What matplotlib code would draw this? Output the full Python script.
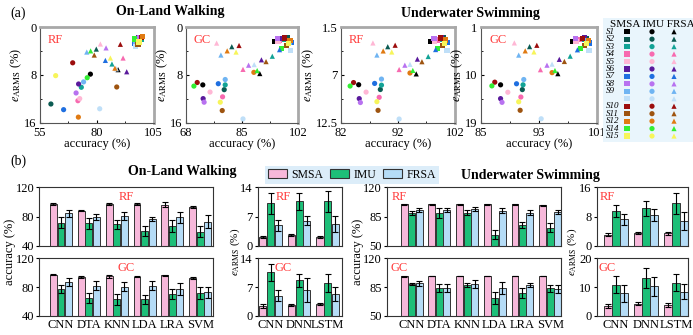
import numpy as np
import matplotlib
matplotlib.use("Agg")
from matplotlib import pyplot as plt
from matplotlib.patches import Patch

plt.rcParams["font.family"] = ["Liberation Serif", "DejaVu Serif"]
plt.rcParams["mathtext.fontset"] = "stix"

W, H = 693, 335

# ---- (a) per-subject scatter data: accuracy (%) and e_ARMS (%) ----
subjects = ["S1", "S2", "S3", "S4", "S5", "S6", "S7", "S8", "S9", "",
            "S10", "S11", "S12", "S14", "S15"]
subj_colors = ["#000000", "#0b5b52", "#12a396", "#f76ab0", "#ffb7d5",
               "#5a1a9c", "#1f6fe0", "#b872f0", "#6fb4f2", "#bfdff8",
               "#9c0d0d", "#9e5410", "#e07a12", "#33ee33", "#f7f55a"]
sensors = ["SMSA", "IMU", "FRSA"]

land_rf_acc = {
    "SMSA": [97.8, 99.2, 99.6, 97.9, 97.6, 98.3, 96.7, 99.0, 97.0, 97.2, 99.8, 98.2, 100.2, 96.5, 98.6],
    "IMU": [77.2, 59.8, 73.2, 71.7, 72.5, 72.0, 65.4, 70.9, 74.2, 81.3, 69.4, 88.8, 71.9, 75.8, 61.9],
    "FRSA": [89.4, 79.8, 86.7, 91.6, 81.6, 93.2, 83.8, 84.1, 75.6, 88.6, 90.4, 78.9, 88.0, 77.3, 86.0],
}
land_rf_err = {
    "SMSA": [2.8, 1.95, 2.1, 2.4, 2.3, 1.85, 2.7, 1.75, 2.5, 3.3, 1.7, 2.95, 1.6, 2.0, 2.5],
    "IMU": [7.9, 12.9, 10.1, 12.35, 12.0, 9.55, 13.85, 11.05, 9.2, 13.7, 6.0, 10.05, 15.1, 8.5, 8.15],
    "FRSA": [7.15, 3.7, 6.2, 5.2, 2.85, 7.5, 5.6, 3.5, 4.2, 7.0, 2.9, 4.7, 6.9, 4.0, 5.2],
}
land_gc_acc = {
    "SMSA": [94.8, 98.9, 98.0, 96.5, 95.9, 97.3, 100.0, 95.7, 99.5, 99.8, 97.8, 98.6, 99.6, 97.1, 99.1],
    "IMU": [73.1, 79.6, 79.9, 79.1, 75.3, 73.2, 77.8, 73.5, 79.9, 85.3, 71.4, 79.0, 88.6, 70.4, 78.4],
    "FRSA": [90.4, 81.9, 94.2, 85.3, 77.3, 90.9, 96.4, 87.0, 78.6, 88.7, 84.1, 92.3, 80.5, 89.6, 83.2],
}
land_gc_err = {
    "SMSA": [2.4, 1.85, 2.0, 2.2, 2.4, 1.9, 2.6, 1.95, 2.5, 4.0, 1.85, 3.1, 2.2, 3.6, 2.7],
    "IMU": [9.7, 10.5, 9.7, 11.7, 10.9, 12.0, 9.5, 12.6, 8.8, 15.4, 9.3, 14.0, 7.6, 9.9, 12.6],
    "FRSA": [7.8, 3.3, 4.9, 7.1, 2.7, 5.5, 3.8, 6.4, 4.7, 6.3, 3.1, 5.8, 4.0, 7.3, 4.2],
}
water_rf_acc = {
    "SMSA": [97.8, 100.0, 99.8, 98.9, 98.4, 99.6, 100.7, 98.3, 100.3, 100.6, 99.4, 99.8, 100.4, 99.0, 100.1],
    "IMU": [85.1, 88.9, 89.1, 88.7, 86.4, 85.2, 87.9, 85.4, 89.1, 92.2, 84.2, 88.5, 94.1, 83.6, 88.3],
    "FRSA": [95.2, 90.2, 97.3, 92.2, 87.6, 95.4, 98.6, 93.2, 88.3, 94.1, 91.5, 96.2, 89.4, 94.6, 90.9],
}
water_rf_err = {
    "SMSA": [3.15, 2.77, 2.9, 3.0, 3.15, 2.75, 3.3, 2.8, 3.1, 4.2, 2.77, 3.65, 3.0, 4.0, 3.4],
    "IMU": [8.15, 8.7, 8.2, 9.6, 9.0, 9.75, 8.0, 10.2, 7.5, 12.1, 7.9, 11.1, 6.8, 8.3, 10.1],
    "FRSA": [6.9, 3.77, 4.9, 6.4, 3.34, 5.2, 4.1, 5.9, 4.73, 5.8, 3.6, 5.5, 4.26, 6.5, 4.38],
}
water_gc_acc = {
    "SMSA": [97.7, 99.5, 99.2, 98.6, 98.1, 99.3, 100.0, 98.0, 99.7, 99.9, 99.0, 99.3, 99.8, 98.7, 99.5],
    "IMU": [87.7, 90.7, 90.8, 90.5, 88.7, 87.7, 89.9, 87.9, 90.9, 93.3, 86.9, 90.4, 94.8, 86.5, 90.2],
    "FRSA": [95.6, 91.7, 97.3, 93.2, 89.6, 95.8, 98.3, 94.1, 90.2, 94.8, 92.7, 96.5, 91.1, 95.2, 92.3],
}
water_gc_err = {
    "SMSA": [3.7, 3.1, 3.3, 3.4, 3.7, 3.0, 4.0, 3.1, 3.6, 5.5, 3.1, 4.5, 3.5, 5.1, 4.1],
    "IMU": [11.9, 12.8, 11.9, 14.2, 13.3, 14.5, 11.7, 15.2, 10.9, 18.3, 11.4, 16.7, 9.6, 12.1, 15.1],
    "FRSA": [9.8, 4.7, 6.5, 9.05, 4.0, 7.1, 5.3, 8.2, 6.3, 8.0, 4.45, 7.5, 5.5, 9.2, 5.7],
}

# ---- (b) classifier / regressor summary bars ----
classifiers = ["CNN", "DTA", "KNN", "LDA", "LRA", "SVM"]
regressors = ["CNN", "DNN", "LSTM"]

land_acc_rf = {"SMSA": [97.3, 88.2, 97.3, 97.3, 96.4, 93.2],
               "IMU": [71.8, 71.0, 69.5, 60.5, 67.3, 59.5],
               "FRSA": [84.5, 80.0, 81.4, 76.8, 79.0, 73.0]}
land_acc_rf_sd = {"SMSA": [1.0, 1.0, 1.0, 0.8, 3.5, 0.8],
                  "IMU": [7.5, 7.5, 6.0, 7.0, 8.0, 7.5],
                  "FRSA": [4.5, 4.0, 5.5, 2.7, 7.0, 9.0]}
land_acc_gc = {"SMSA": [97.3, 93.6, 95.0, 94.6, 96.4, 93.2],
               "IMU": [77.5, 64.5, 63.0, 63.0, 70.5, 71.4],
               "FRSA": [86.7, 82.0, 80.7, 82.0, 77.5, 72.8]}
land_acc_gc_sd = {"SMSA": [1.0, 1.5, 2.0, 0.5, 1.0, 1.5],
                  "IMU": [5.0, 7.0, 8.0, 6.0, 7.6, 8.3],
                  "FRSA": [5.5, 6.0, 6.5, 6.0, 8.0, 8.0]}
land_err_rf = {"SMSA": [2.07, 2.6, 2.2], "IMU": [10.2, 10.7, 10.7], "FRSA": [4.9, 6.0, 5.25]}
land_err_rf_sd = {"SMSA": [0.25, 0.3, 0.3], "IMU": [2.5, 2.0, 2.5], "FRSA": [1.3, 1.1, 1.8]}
land_err_gc = {"SMSA": [2.4, 2.6, 2.9], "IMU": [10.6, 8.7, 8.0], "FRSA": [4.9, 6.3, 5.3]}
land_err_gc_sd = {"SMSA": [0.5, 0.2, 0.3], "IMU": [2.0, 1.6, 2.2], "FRSA": [1.3, 2.8, 1.7]}

water_acc_rf = {"SMSA": [99.7, 99.7, 99.7, 99.7, 99.7, 98.5],
                "IMU": [89.0, 89.8, 89.8, 63.5, 75.0, 72.0],
                "FRSA": [93.0, 93.0, 94.2, 92.2, 89.8, 90.6]}
water_acc_rf_sd = {"SMSA": [0.3, 0.3, 0.3, 0.3, 0.3, 0.3],
                   "IMU": [2.5, 6.0, 3.0, 5.0, 3.5, 5.0],
                   "FRSA": [2.5, 2.5, 2.5, 3.0, 3.0, 2.0]}
water_acc_gc = {"SMSA": [98.0, 98.8, 98.8, 98.8, 98.8, 98.8],
                "IMU": [89.2, 84.0, 87.6, 72.0, 78.0, 83.6],
                "FRSA": [90.0, 84.0, 89.2, 84.0, 87.6, 83.2]}
water_acc_gc_sd = {"SMSA": [0.5, 0.3, 0.3, 0.3, 0.3, 0.3],
                   "IMU": [1.0, 5.0, 2.5, 7.0, 6.0, 4.0],
                   "FRSA": [3.0, 5.0, 5.0, 7.0, 3.0, 5.0]}
water_err_rf = {"SMSA": [3.1, 3.45, 3.45], "IMU": [9.6, 10.3, 11.6], "FRSA": [7.3, 8.5, 6.8]}
water_err_rf_sd = {"SMSA": [0.5, 0.3, 0.4], "IMU": [1.7, 2.0, 2.8], "FRSA": [1.5, 1.7, 2.5]}
water_err_gc = {"SMSA": [3.5, 4.3, 3.8], "IMU": [10.8, 13.1, 11.5], "FRSA": [7.8, 10.3, 8.4]}
water_err_gc_sd = {"SMSA": [0.7, 0.6, 0.6], "IMU": [3.0, 3.5, 3.0], "FRSA": [3.0, 3.3, 2.6]}

bar_colors = {"SMSA": "#f7b8da", "IMU": "#1dbf78", "FRSA": "#b5dcf6"}
markers = {"SMSA": "s", "IMU": "o", "FRSA": "^"}
RED = "#ff3b3b"
ERMS = r"$e_{\mathrm{ARMS}}$ (%)"


def add_px(fig, left, top, right, bottom):
    return fig.add_axes([left / W, 1 - bottom / H, (right - left) / W, (bottom - top) / H])


def scatter_panel(ax, acc, err, xlim, ylim, tag):
    for s in sensors:
        for i in range(len(subj_colors)):
            ax.scatter(acc[s][i], err[s][i], marker=markers[s], s=14,
                       color=subj_colors[i], edgecolors="none", zorder=3)
    ax.set_xlim(xlim)
    ax.set_ylim(ylim[1], ylim[0])
    mx = (xlim[0] + xlim[1]) / 2
    my = (ylim[0] + ylim[1]) / 2
    ax.set_xticks([xlim[0], mx, xlim[1]])
    ax.set_xticks([(xlim[0] + mx) / 2, (mx + xlim[1]) / 2], minor=True)
    ax.set_yticks([ylim[0], my, ylim[1]])
    ax.set_yticks([(ylim[0] + my) / 2, (my + ylim[1]) / 2], minor=True)
    ax.xaxis.set_major_formatter(plt.FuncFormatter(lambda v, p: f"{v:g}"))
    ax.yaxis.set_major_formatter(plt.FuncFormatter(lambda v, p: f"{v:g}"))
    ax.tick_params(which="both", direction="in", labelsize=9, length=2.5)
    ax.tick_params(axis="x", pad=3.5)
    ax.tick_params(axis="y", pad=2.5)
    ax.tick_params(which="minor", length=1.5)
    for side in ("top", "right"):
        ax.spines[side].set_color("#a8a8a8")
        ax.spines[side].set_linewidth(2)
    for side in ("left", "bottom"):
        ax.spines[side].set_color("#555555")
        ax.spines[side].set_linewidth(0.8)
    ax.set_xlabel("accuracy (%)", fontsize=9, labelpad=-1)
    ax.set_ylabel(ERMS, fontsize=9, labelpad=0)
    ax.text(0.07, 0.93, tag, transform=ax.transAxes, color=RED, fontsize=9,
            ha="left", va="top")


def bar_panel(ax, names, mean, sd, ylim, tag, tag_x, xlim, show_labels):
    x = np.arange(len(names))
    for k, s in enumerate(sensors):
        ax.bar(x + (k - 1) * 0.27, mean[s], width=0.25, color=bar_colors[s],
               edgecolor="#333333", linewidth=0.7, yerr=sd[s],
               error_kw=dict(ecolor="black", elinewidth=0.8, capsize=2, capthick=0.8),
               zorder=2)
    ax.set_xlim(xlim)
    ax.set_ylim(ylim)
    ax.set_yticks([ylim[0], (ylim[0] + ylim[1]) / 2, ylim[1]])
    ax.yaxis.set_major_formatter(plt.FuncFormatter(lambda v, p: f"{v:g}"))
    ax.set_xticks(x)
    if show_labels:
        ax.set_xticklabels(names)
    else:
        ax.set_xticklabels([])
    ax.tick_params(axis="y", direction="out", labelsize=9, length=2.5, pad=1)
    ax.tick_params(axis="x", length=0, labelsize=9, pad=2)
    for sp in ax.spines.values():
        sp.set_linewidth(0.8)
        sp.set_color("#333333")
    ax.text(tag_x, 0.93, tag, transform=ax.transAxes, color=RED, fontsize=9,
            ha="center", va="top")


fig = plt.figure(figsize=(W / 100, H / 100), dpi=100)

# ---------- (a) ----------
fig.text(10 / W, 1 - 13 / H, "(a)", fontsize=10, ha="left", va="center")
fig.text(170 / W, 1 - 11 / H, "On-Land Walking", fontsize=10, fontweight="bold",
         ha="center", va="center")
fig.text(470 / W, 1 - 14 / H, "Underwater Swimming", fontsize=10, fontweight="bold",
         ha="center", va="center")

a1 = add_px(fig, 40, 27, 153.5, 122.5)
scatter_panel(a1, land_rf_acc, land_rf_err, (55, 105), (0, 16), "RF")
a2 = add_px(fig, 186, 27, 298, 122.5)
scatter_panel(a2, land_gc_acc, land_gc_err, (68, 102), (0, 16), "GC")
a3 = add_px(fig, 341, 27, 455, 122.5)
scatter_panel(a3, water_rf_acc, water_rf_err, (82, 102), (1.5, 12.5), "RF")
a4 = add_px(fig, 481, 27, 597, 122.5)
scatter_panel(a4, water_gc_acc, water_gc_err, (85, 101), (1, 19), "GC")

# subject legend block
lg = add_px(fig, 603, 18, 693, 142)
lg.set_facecolor("#e9f5fc")
for sp in lg.spines.values():
    sp.set_visible(False)
lg.set_xticks([])
lg.set_yticks([])
lg.set_xlim(0, 90)
lg.set_ylim(14.8, -1.84)
col_x = {"SMSA": 24, "IMU": 49, "FRSA": 71}
lg.text(49, -1.0, "SMSA IMU FRSA", fontsize=8, ha="center", va="center")
for i, (lab, c) in enumerate(zip(subjects, subj_colors)):
    lg.text(3, i, lab, fontsize=6.5, style="italic", ha="left", va="center")
    for s in sensors:
        lg.scatter(col_x[s], i, marker=markers[s], s=14, color=c, edgecolors="none")

# ---------- (b) ----------
fig.text(10 / W, 1 - 161 / H, "(b)", fontsize=10, ha="left", va="center")
fig.text(182 / W, 1 - 172 / H, "On-Land Walking", fontsize=10, fontweight="bold",
         ha="center", va="center")
fig.text(530 / W, 1 - 176 / H, "Underwater Swimming", fontsize=10, fontweight="bold",
         ha="center", va="center")

handles = [Patch(facecolor=bar_colors[s], edgecolor="#333333", linewidth=0.8) for s in sensors]
fig.legend(handles, sensors, loc="center", bbox_to_anchor=(352 / W, 1 - 175 / H), ncol=3,
           frameon=True, fancybox=False, facecolor="#dcedf9", edgecolor="none",
           fontsize=8.5, handlelength=1.6, handleheight=0.8, columnspacing=0.6,
           handletextpad=0.35, borderpad=0.25, borderaxespad=0, framealpha=1)

cx = (-0.78, 5.45)
rx = (-0.45, 2.5)
wx = (-0.9, 5.38)
ex = (-0.64, 2.39)

b1 = add_px(fig, 39.3, 187.3, 212.7, 246)
bar_panel(b1, classifiers, land_acc_rf, land_acc_rf_sd, (40, 120), "RF", 0.5, cx, False)
b1g = add_px(fig, 39.3, 258.3, 212.7, 316)
bar_panel(b1g, classifiers, land_acc_gc, land_acc_gc_sd, (40, 120), "GC", 0.5, cx, True)
fig.text(10 / W, 1 - 252 / H, "accuracy (%)", rotation=90, fontsize=9,
         ha="center", va="center")

b2 = add_px(fig, 257.7, 187.3, 342, 246)
bar_panel(b2, regressors, land_err_rf, land_err_rf_sd, (0, 14), "RF", 0.3, rx, False)
b2g = add_px(fig, 257.7, 258.3, 342, 316)
bar_panel(b2g, regressors, land_err_gc, land_err_gc_sd, (0, 14), "GC", 0.3, rx, True)
fig.text(235 / W, 1 - 252 / H, ERMS, rotation=90, fontsize=8, ha="center", va="center")

b3 = add_px(fig, 386.7, 187.3, 560.7, 246)
bar_panel(b3, classifiers, water_acc_rf, water_acc_rf_sd, (50, 120), "RF", 0.07, wx, False)
b3g = add_px(fig, 386.7, 258.3, 560.7, 316)
bar_panel(b3g, classifiers, water_acc_gc, water_acc_gc_sd, (50, 120), "GC", 0.07, wx, True)
fig.text(358 / W, 1 - 252 / H, "accuracy (%)", rotation=90, fontsize=9,
         ha="center", va="center")

b4 = add_px(fig, 596.7, 187.3, 687.7, 246)
bar_panel(b4, regressors, water_err_rf, water_err_rf_sd, (0, 16), "RF", 0.12, ex, False)
b4g = add_px(fig, 596.7, 258.3, 687.7, 316)
bar_panel(b4g, regressors, water_err_gc, water_err_gc_sd, (0, 20), "GC", 0.12, ex, True)
fig.text(572 / W, 1 - 252 / H, ERMS, rotation=90, fontsize=8, ha="center", va="center")

fig.savefig("out.png", dpi=100)
plt.close(fig)
